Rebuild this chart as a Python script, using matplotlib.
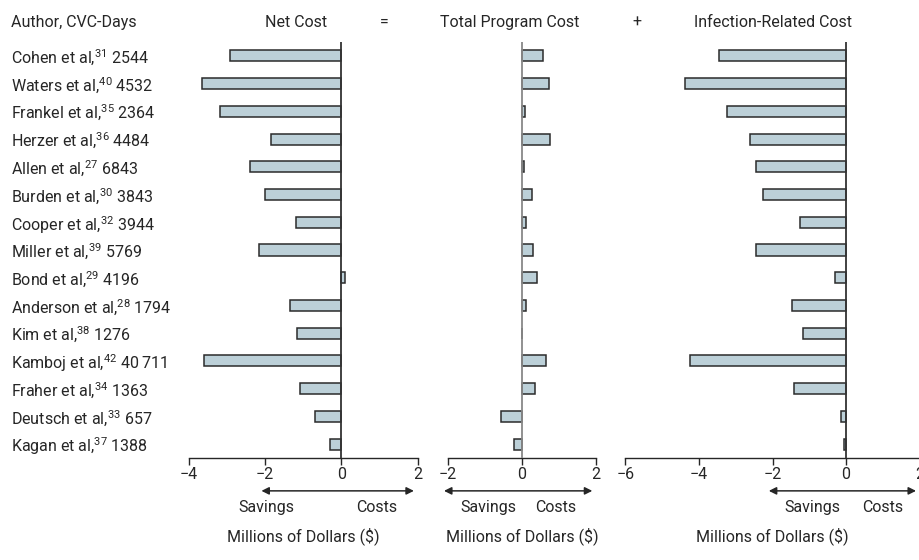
import matplotlib.pyplot as plt
from matplotlib.transforms import blended_transform_factory

plt.rcParams['font.family'] = ['Roboto', 'DejaVu Sans']
plt.rcParams['mathtext.default'] = 'regular'

# Studies, reference numbers and central venous catheter days
authors = ["Cohen et al", "Waters et al", "Frankel et al", "Herzer et al", "Allen et al",
           "Burden et al", "Cooper et al", "Miller et al", "Bond et al", "Anderson et al",
           "Kim et al", "Kamboj et al", "Fraher et al", "Deutsch et al", "Kagan et al"]
refs = [31, 40, 35, 36, 27, 30, 32, 39, 29, 28, 38, 42, 34, 33, 37]
cvc_days = ["2544", "4532", "2364", "4484", "6843", "3843", "3944", "5769", "4196",
            "1794", "1276", "40\u2009711", "1363", "657", "1388"]

# Costs in millions of dollars
net_cost = [-2.93, -3.66, -3.18, -1.86, -2.40, -2.01, -1.19, -2.16, 0.09, -1.35,
            -1.17, -3.61, -1.09, -0.69, -0.29]
program_cost = [0.56, 0.73, 0.08, 0.75, 0.06, 0.27, 0.11, 0.31, 0.40, 0.12,
                0.00, 0.65, 0.35, -0.55, -0.22]
infection_cost = [-3.46, -4.37, -3.23, -2.61, -2.45, -2.26, -1.26, -2.45, -0.30, -1.48,
                  -1.18, -4.23, -1.42, -0.14, -0.06]

TXT = '#262626'
FILL = '#bcd0d8'
FS = 11.5

W, H = 919, 560
fig = plt.figure(figsize=(W / 100, H / 100), dpi=100)

bottom = 1 - 458 / H
height = 416 / H
panels = [
    # (left px, width px, data, xlim, ticks, zero line colour, savings x, costs x)
    (189.0, 228.7, net_cost, (-4, 2), [-4, -2, 0, 2], '#333333', -1.96, 0.93),
    (447.7, 148.3, program_cost, (-2, 2), [-2, 0, 2], '#888888', -0.91, 0.92),
    (625.3, 294.4, infection_cost, (-6, 2), [-6, -4, -2, 0, 2], '#333333', -0.93, 1.0),
]

axes = []
rows = list(range(len(authors)))
for left, width, vals, xlim, ticks, zcol, sav_x, cost_x in panels:
    ax = fig.add_axes([left / W, bottom, width / W, height])
    ax.barh(rows, vals, height=0.4, color=FILL, edgecolor='#2b2b2b', linewidth=1.1, zorder=2)
    ax.axvline(0, color=zcol, linewidth=1.3, zorder=3)
    ax.set_xlim(*xlim)
    ax.set_ylim(len(authors) - 0.5, -0.5)
    ax.set_yticks([])
    for s in ['left', 'top', 'right']:
        ax.spines[s].set_visible(False)
    ax.spines['bottom'].set_color(TXT)
    ax.spines['bottom'].set_linewidth(1.0)
    ax.set_xticks(ticks)
    ax.set_xticklabels([f"\u2212{abs(t)}" if t < 0 else str(t) for t in ticks])
    ax.tick_params(axis='x', direction='out', length=5, width=1.0, color=TXT,
                   labelcolor=TXT, labelsize=FS, pad=1.5)

    trans = blended_transform_factory(ax.transData, ax.transAxes)
    ax.annotate('', xy=(1.9, -0.079), xytext=(-2.1, -0.079), xycoords=trans, textcoords=trans,
                arrowprops=dict(arrowstyle='<|-|>', color=TXT, lw=1.1, mutation_scale=11,
                                shrinkA=0, shrinkB=0),
                annotation_clip=False)
    ax.text(sav_x, -0.12, "Savings", transform=trans, ha='center', va='center',
            fontsize=FS, color=TXT)
    ax.text(cost_x, -0.12, "Costs", transform=trans, ha='center', va='center',
            fontsize=FS, color=TXT)
    ax.text(0.5, -0.187, "Millions of Dollars ($)", transform=ax.transAxes,
            ha='center', va='center', fontsize=FS, color=TXT)
    axes.append(ax)

# Column headers
head_y = 1 - 21 / H
fig.text(11 / W, head_y, "Author, CVC-Days", ha='left', va='center_baseline', fontsize=FS, color=TXT)
for x, s in [(296, "Net Cost"), (384, "="), (510, "Total Program Cost"),
             (637, "+"), (773, "Infection-Related Cost")]:
    fig.text(x / W, head_y, s, ha='center', va='center_baseline', fontsize=FS, color=TXT)

# Study labels down the left side
lab_trans = blended_transform_factory(fig.transFigure, axes[0].transData)
for i, (a, r, d) in enumerate(zip(authors, refs, cvc_days)):
    fig.text(11 / W, i, f"{a},$^{{{r}}}$ {d}", transform=lab_trans, ha='left',
             va='center_baseline', fontsize=FS, color=TXT)

fig.savefig("out.png", dpi=100)
